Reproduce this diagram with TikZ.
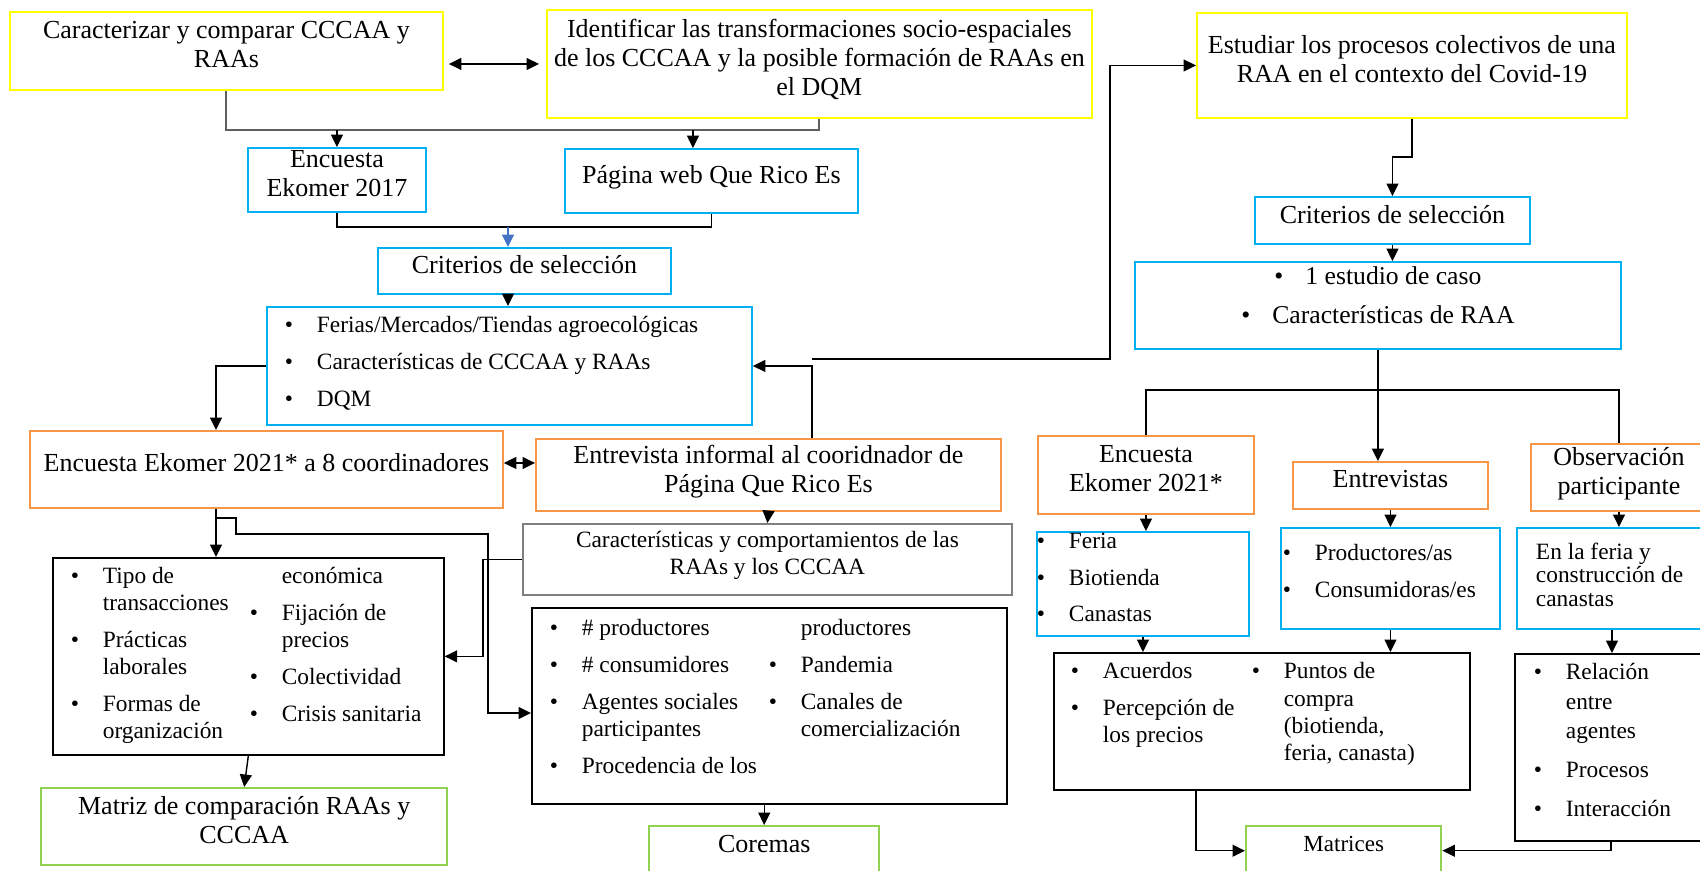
\documentclass[tikz,border=0pt]{standalone}
\usepackage{fontspec}
\setmainfont{Liberation Serif}
\usetikzlibrary{arrows.meta}

\definecolor{goalyellow}{HTML}{FFFF00}
\definecolor{sourceblue}{HTML}{00B0F0}
\definecolor{methodorange}{HTML}{F79646}
\definecolor{resultgreen}{HTML}{92D050}
\definecolor{tipblue}{HTML}{4472C4}
\definecolor{busgray}{HTML}{5F5F5F}

\newcommand{\lowstrut}{\rule[-0.26cm]{0pt}{0pt}}
\newcommand{\listfont}{\fontsize{13.3}{15.5}\selectfont\parskip=5.5pt\relax}
\newcommand{\blt}[1]{\par\hangindent=0.64cm\hangafter=1\noindent\makebox[0.64cm][l]{\textbullet}#1}
\newcommand{\colpart}[2]{\begin{minipage}[t]{#1}\listfont #2\end{minipage}}
\newcommand{\panel}[4]{\parbox[c][#2][t]{#1}{\listfont\vspace*{#3}#4}}

\begin{document}
\begin{tikzpicture}[x=0.02cm, y=-0.02cm]
\tikzset{box/.style = {draw, line width=1.1pt, anchor=north west, align=center, inner xsep=2pt, inner ysep=1pt, font=\fontsize{14.8}{16.6}\selectfont}}
\tikzset{goal/.style = {box, draw=goalyellow}}
\tikzset{source/.style = {box, draw=sourceblue}}
\tikzset{method/.style = {box, draw=methodorange}}
\tikzset{result/.style = {box, draw=resultgreen, line width=1.4pt}}
\tikzset{plain/.style = {box, draw=gray}}
\tikzset{list/.style = {draw, line width=1pt, anchor=north west, inner sep=0pt}}
\tikzset{blist/.style = {list, draw=sourceblue, line width=1.1pt}}
\tikzset{edge/.style = {line width=0.8pt, -{Triangle[length=0.25cm, width=0.24cm]}}}
\tikzset{dedge/.style = {line width=0.8pt, {Triangle[length=0.25cm, width=0.24cm]}-{Triangle[length=0.25cm, width=0.24cm]}}}
\tikzset{link/.style = {line width=0.8pt}}
\useasboundingbox (0,0) rectangle (1700,870);

% objectives
\node[goal, minimum width=8.66cm, minimum height=1.56cm] (obj1) at (9,11) {Caracterizar y comparar CCCAA y\\RAAs\lowstrut};
\node[goal, minimum width=10.9cm, minimum height=2.16cm] (obj2) at (546,9) {Identificar las transformaciones socio-espaciales\\de los CCCAA y la posible formación de RAAs en\\el DQM\lowstrut};
\node[goal, minimum width=8.6cm, minimum height=2.1cm] (obj3) at (1196,12) {Estudiar los procesos colectivos de una\\RAA en el contexto del Covid-19\lowstrut};

% left branch
\node[source, minimum width=3.56cm, minimum height=1.28cm] (enc17) at (247,147) {Encuesta\\Ekomer 2017\lowstrut};
\node[source, minimum width=5.86cm, minimum height=1.28cm] (web) at (564,148) {Página web Que Rico Es\lowstrut};
\node[source, minimum width=5.86cm, minimum height=0.92cm] (crit1) at (377,247) {Criterios de selección\lowstrut};
\node[blist] (crit1list) at (266,306) {\panel{9.7cm}{2.36cm}{-0.01cm}{\leftskip=0.36cm
  \blt{Ferias/Mercados/Tiendas agroecológicas}\blt{Características de CCCAA y RAAs}\blt{DQM}}};
\node[method, minimum width=9.46cm, minimum height=1.54cm] (enc21) at (29,430) {Encuesta Ekomer 2021* a 8 coordinadores\lowstrut};
\node[method, minimum width=9.3cm, minimum height=1.44cm] (entinf) at (535,438) {Entrevista informal al cooridnador de\\Página Que Rico Es\lowstrut};
\node[plain, minimum width=9.78cm, minimum height=1.42cm, font=\fontsize{13.3}{15}\selectfont] (carac) at (522,523) {Características y comportamientos de las\\RAAs y los CCCAA\lowstrut};
\node[list] (vars1) at (52,557) {\panel{7.82cm}{3.94cm}{-0.01cm}{\hspace*{0.36cm}%
  \colpart{3.58cm}{\blt{Tipo de\\transacciones}\blt{Prácticas\\laborales}\blt{Formas de\\organización}}%
  \colpart{3.7cm}{\hspace*{0.64cm}económica\blt{Fijación de\\precios}\blt{Colectividad}\blt{Crisis sanitaria}}}};
\node[list] (vars2) at (531,607) {\panel{9.5cm}{3.92cm}{0.03cm}{\hspace*{0.36cm}%
  \colpart{4.38cm}{\blt{\# productores}\blt{\# consumidores}\blt{Agentes sociales\\participantes}\blt{Procedencia de los}}%
  \colpart{4.5cm}{\hspace*{0.64cm}productores\blt{Pandemia}\blt{Canales de\\comercialización}}}};
\node[result, minimum width=8.12cm, minimum height=1.54cm] (matriz) at (40,787) {Matriz de comparación RAAs y\\CCCAA\lowstrut};
\node[result, minimum width=4.6cm, minimum height=0.98cm] (coremas) at (648,825) {Coremas\lowstrut};

% right branch
\node[source, minimum width=5.5cm, minimum height=0.94cm] (crit2) at (1254,196) {Criterios de selección\lowstrut};
\node[blist] (crit2list) at (1134,261) {\panel{9.72cm}{1.74cm}{-0.1cm}{\fontsize{14.6}{17}\selectfont\centering
  \makebox[0.62cm][l]{\textbullet}1 estudio de caso\par\makebox[0.62cm][l]{\textbullet}Características de RAA}};
\node[method, minimum width=4.32cm, minimum height=1.56cm] (enc21b) at (1037,435) {Encuesta\\Ekomer 2021*\lowstrut};
\node[method, minimum width=3.9cm, minimum height=0.94cm] (entrev) at (1292,461) {Entrevistas\lowstrut};
\node[method, minimum width=3.52cm, minimum height=1.34cm] (observ) at (1530,443) {Observación\\participante\lowstrut};
\node[blist] (lista1) at (1036,531) {\panel{4.24cm}{2.08cm}{-0.18cm}{\blt{Feria}\blt{Biotienda}\blt{Canastas}}};
\node[blist] (lista2) at (1280,527) {\panel{4.38cm}{2.02cm}{0.14cm}{\leftskip=0.04cm
  \blt{Productores/as}\blt{Consumidoras/es}}};
\node[blist] (lista3) at (1516,527) {\panel{3.8cm}{2.02cm}{0.1cm}{\leftskip=0.38cm\baselineskip=13.5pt
  En la feria y\\construcción de\\canastas}};
\node[list] (temas1) at (1053,652) {\panel{8.32cm}{2.74cm}{0cm}{\hspace*{0.34cm}%
  \colpart{3.62cm}{\blt{Acuerdos}\blt{Percepción de\\los precios}}%
  \colpart{3.9cm}{\blt{Puntos de\\compra\\(biotienda,\\feria, canasta)}}}};
\node[list] (temas2) at (1514,653) {\panel{3.84cm}{3.74cm}{0cm}{\leftskip=0.38cm\baselineskip=16.7pt
  \blt{Relación\\entre\\agentes}\blt{Procesos}\blt{Interacción}}};
\node[result, minimum width=3.9cm, minimum height=0.98cm, font=\fontsize{13.1}{15}\selectfont] (matrices) at (1245,825) {Matrices\lowstrut};

% junction points
\coordinate (bus1) at (0,130);
\coordinate (bus2) at (508,227);
\coordinate (bus3) at (0,390);
\coordinate (c1) at (216,0);
\coordinate (c3) at (812,359);
\coordinate (c4) at (1110,359);
\coordinate (c5) at (236,518);
\coordinate (c6) at (488,534);
\coordinate (c7) at (0,713);
\coordinate (c8) at (483,0);
\coordinate (c9) at (1196,0);
\coordinate (webin) at ([xshift=-0.37cm]web.north);

% left connectors
\draw[dedge, shorten <=0.1cm, shorten >=0.14cm] (obj1.east |- obj2.west) -- (obj2.west);
\draw[link, draw=busgray, line width=1.1pt] (obj1.south) -- (obj1.south |- bus1) -- (obj2.south |- bus1) -- (obj2.south);
\draw[edge] (enc17.north |- bus1) -- (enc17.north);
\draw[edge] (webin |- bus1) -- (webin);
\draw[link] (enc17.south) |- (bus2) -| (web.south);
\draw[edge, draw=tipblue] (bus2) -- (bus2 |- crit1.north);
\draw[edge] (bus2 |- crit1.south) -- (bus2 |- crit1list.north);
\draw[edge] (crit1list.west) -| (c1 |- enc21.north);
\draw[dedge] ([yshift=0.13cm]enc21.east) -- ([yshift=0.13cm]enc21.east -| entinf.west);
\draw[edge] (c3 |- entinf.north) |- (crit1list.east);
\draw[edge] (c3) -- (c4) |- (obj3.west);
\draw[edge] (entinf.south) -- (carac.north);
\draw[edge] (c1 |- enc21.south) -- (c1 |- vars1.north);
\draw[edge] (c1 |- enc21.south) |- (c5) |- (c6) |- (c7 -| vars2.west);
\draw[edge] (carac.west) -| (c8 |- vars1.east) -- (vars1.east);
\draw[edge] (vars1.south) -- (matriz.north);
\draw[edge] (vars2.south -| coremas.north) -- (coremas.north);

% right connectors
\draw[edge] (obj3.south) -- ++(0,38) -| (crit2.north);
\draw[edge] (crit2.south) -- (crit2.south |- crit2list.north);
\draw[edge] (crit2list.south) -- (crit2list.south |- entrev.north);
\draw[link] (enc21b.north) |- (crit2list.south |- bus3) -| (observ.north);
\draw[edge] (enc21b.south) -- (enc21b.south |- lista1.north);
\draw[edge] (entrev.south) -- (entrev.south |- lista2.north);
\draw[edge] (observ.south) -- (observ.south |- lista3.north);
\draw[edge] (lista1.south) -- (lista1.south |- temas1.north);
\draw[edge] (lista2.south) -- (lista2.south |- temas1.north);
\draw[edge] (lista3.south) -- (lista3.south |- temas2.north);
\draw[edge] (c9 |- temas1.south) |- (matrices.west);
\draw[edge] (temas2.south) |- (matrices.east);

\end{tikzpicture}
\end{document}
